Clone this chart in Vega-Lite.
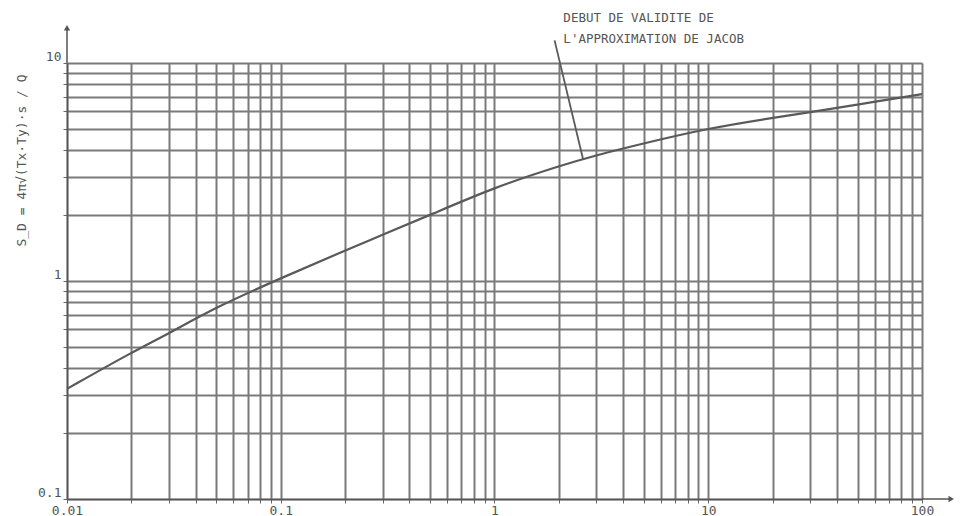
{
  "$schema": "https://vega.github.io/schema/vega-lite/v6.json",
  "width": 855,
  "height": 436,
  "autosize": {"type": "none"},
  "padding": {"left": 67, "top": 63, "right": 41, "bottom": 17},
  "background": "white",
  "config": {
    "view": {"stroke": null},
    "font": "DejaVu Sans Mono"
  },
  "datasets": {
    "curve": [
      {"t": 0.01, "s": 0.32},
      {"t": 0.02, "s": 0.47},
      {"t": 0.03, "s": 0.575},
      {"t": 0.05, "s": 0.76},
      {"t": 0.1, "s": 1.03},
      {"t": 0.2, "s": 1.38},
      {"t": 0.3, "s": 1.63},
      {"t": 0.5, "s": 2.01},
      {"t": 1, "s": 2.69},
      {"t": 2, "s": 3.37},
      {"t": 3, "s": 3.78},
      {"t": 5, "s": 4.28},
      {"t": 10, "s": 5.02},
      {"t": 20, "s": 5.6},
      {"t": 30, "s": 5.95},
      {"t": 50, "s": 6.45},
      {"t": 100, "s": 7.2}
    ],
    "pointer": [
      {"t": 1.91, "s": 12.7, "t2": 2.6, "s2": 3.6}
    ],
    "note": [
      {"t": 2.1, "s": 16.1, "text": "DEBUT DE VALIDITE DE"},
      {"t": 2.1, "s": 12.9, "text": "L'APPROXIMATION DE JACOB"}
    ],
    "axisext": [
      {"t": 0.01, "s": 10, "t2": 0.01, "s2": 14.5},
      {"t": 100, "s": 0.1, "t2": 137, "s2": 0.1}
    ],
    "arrowup": [{"t": 0.01, "s": 14.5}],
    "arrowright": [{"t": 137, "s": 0.1}]
  },
  "layer": [
    {
      "data": {"name": "curve"},
      "mark": {"type": "line", "color": "#5a5a5a", "strokeWidth": 2.2, "interpolate": "basis"},
      "encoding": {
        "x": {
          "field": "t", "type": "quantitative",
          "scale": {"type": "log", "domain": [0.01, 100], "nice": false},
          "axis": {
            "title": null,
            "values": [0.01,0.02,0.03,0.04,0.05,0.06,0.07,0.08,0.09,0.1,0.2,0.3,0.4,0.5,0.6,0.7,0.8,0.9,1,2,3,4,5,6,7,8,9,10,20,30,40,50,60,70,80,90,100],
            "format": "~g",
            "labelExpr": "(datum.value==0.01||datum.value==0.1||datum.value==1||datum.value==10||datum.value==100) ? datum.label : ''",
            "grid": true,
            "gridColor": "#7a7a7a",
            "gridWidth": 2,
            "gridOpacity": 1,
            "domainColor": "#555555",
            "domainWidth": 1.5,
            "ticks": true,
            "tickSize": 4,
            "tickColor": "#666666",
            "labelFont": "DejaVu Sans Mono",
            "labelFontSize": 13,
            "labelColor": "#555555",
            "labelPadding": 1,
            "labelFlush": false
          }
        },
        "y": {
          "field": "s", "type": "quantitative",
          "scale": {"type": "log", "domain": [0.1, 10], "nice": false},
          "axis": {
            "title": "S_D = 4π√(Tx·Ty)·s / Q",
            "titleFont": "DejaVu Sans Mono",
            "titleFontSize": 13,
            "titleFontWeight": "normal",
            "titleColor": "#555555",
            "titleAngle": -90,
            "titleX": -46,
            "titleY": 97,
            "titleAlign": "center",
            "titleBaseline": "middle",
            "values": [0.1,0.2,0.3,0.4,0.5,0.6,0.7,0.8,0.9,1,2,3,4,5,6,7,8,9,10],
            "format": "~g",
            "labelExpr": "(datum.value==0.1||datum.value==1||datum.value==10) ? datum.label : ''",
            "labelBaseline": "bottom",
            "grid": true,
            "gridColor": "#7a7a7a",
            "gridWidth": 2,
            "gridOpacity": 1,
            "domainColor": "#555555",
            "domainWidth": 1.5,
            "ticks": true,
            "tickSize": 4,
            "tickColor": "#666666",
            "labelFont": "DejaVu Sans Mono",
            "labelFontSize": 13,
            "labelColor": "#555555",
            "labelPadding": 2
          }
        }
      }
    },
    {
      "data": {"name": "axisext"},
      "mark": {"type": "rule", "color": "#555555", "strokeWidth": 1.5, "clip": false},
      "encoding": {
        "x": {"field": "t", "type": "quantitative"},
        "y": {"field": "s", "type": "quantitative"},
        "x2": {"field": "t2"},
        "y2": {"field": "s2"}
      }
    },
    {
      "data": {"name": "arrowup"},
      "mark": {"type": "point", "shape": "triangle-up", "filled": true, "color": "#555555", "size": 40, "opacity": 1, "clip": false},
      "encoding": {
        "x": {"field": "t", "type": "quantitative"},
        "y": {"field": "s", "type": "quantitative"}
      }
    },
    {
      "data": {"name": "arrowright"},
      "mark": {"type": "point", "shape": "triangle-right", "filled": true, "color": "#555555", "size": 40, "opacity": 1, "clip": false},
      "encoding": {
        "x": {"field": "t", "type": "quantitative"},
        "y": {"field": "s", "type": "quantitative"}
      }
    },
    {
      "data": {"name": "pointer"},
      "mark": {"type": "rule", "color": "#5a5a5a", "strokeWidth": 1.8, "clip": false},
      "encoding": {
        "x": {"field": "t", "type": "quantitative"},
        "y": {"field": "s", "type": "quantitative"},
        "x2": {"field": "t2"},
        "y2": {"field": "s2"}
      }
    },
    {
      "data": {"name": "note"},
      "mark": {"type": "text", "align": "left", "baseline": "middle", "font": "DejaVu Sans Mono", "fontSize": 12.5, "color": "#555555", "clip": false},
      "encoding": {
        "x": {"field": "t", "type": "quantitative"},
        "y": {"field": "s", "type": "quantitative"},
        "text": {"field": "text"}
      }
    }
  ]
}
